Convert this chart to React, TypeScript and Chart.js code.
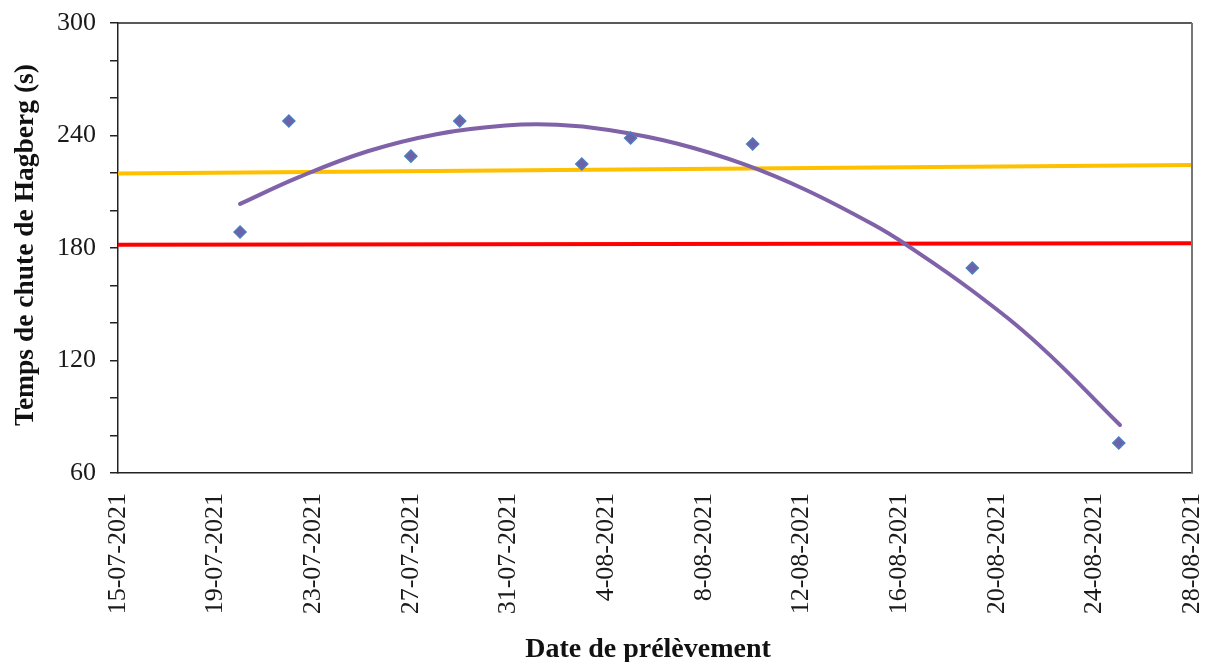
import React, { useEffect, useRef } from "react";
import { Chart, registerables } from "chart.js";

Chart.register(...registerables);

// Sampling dates and Hagberg falling number (s)
const sampleDates = ["20-07-2021", "22-07-2021", "27-07-2021", "29-07-2021", "03-08-2021", "05-08-2021", "10-08-2021", "19-08-2021", "25-08-2021"];
const hagbergValues = [188.5, 247.7, 229, 247.7, 224.8, 238.7, 235.5, 169.3, 76];

// Polynomial trend curve, x in days since 15-07-2021
const trendDays = [5, 7.41, 10.23, 13.05, 15.87, 17.99, 20.11, 22.93, 25.75, 28.21, 30.94, 32.31, 35.04, 37.77, 41.05];
const trendValues = [203.5, 217.8, 231.6, 240.7, 245.3, 245.7, 242.9, 235.6, 224.2, 210.8, 192.5, 181.6, 156.8, 127.8, 85.6];

// Reference lines (start / end of axis)
const refLineDays = [0, 44];
const yellowLineValues = [219.7, 224.3];
const redLineValues = [181.8, 182.5];

// Axis settings and titles
const xStartDate = "15-07-2021";
const xMaxDays = 44;
const xTickStep = 4;
const yMin = 60;
const yMax = 300;
const yMinorStep = 20;
const yMajorStep = 60;
const xTitle = "Date de prélèvement";
const yTitle = "Temps de chute de Hagberg (s)";

const DAY = 86400000;
function parseDate(s: string): number {
  const [d, m, y] = s.split("-").map(Number);
  return Date.UTC(y, m - 1, d);
}
const origin = parseDate(xStartDate);
function toDays(s: string): number {
  return Math.round((parseDate(s) - origin) / DAY);
}
function fmtDay(v: number): string {
  const dt = new Date(origin + v * DAY);
  const d = dt.getUTCDate();
  const m = dt.getUTCMonth() + 1;
  return `${d}-${m < 10 ? "0" + m : m}-${dt.getUTCFullYear()}`;
}

const SERIF = "'Liberation Serif', 'Times New Roman', serif";

const frameAndTitles = {
  id: "frameAndTitles",
  afterDatasetsDraw(chart: any) {
    const { ctx, chartArea } = chart;
    ctx.save();
    ctx.lineWidth = 1.5;
    ctx.strokeStyle = "#222";
    ctx.beginPath();
    ctx.moveTo(chartArea.left, chartArea.top);
    ctx.lineTo(chartArea.right, chartArea.top);
    ctx.stroke();
    ctx.strokeStyle = "#777";
    ctx.lineWidth = 2;
    ctx.beginPath();
    ctx.moveTo(chartArea.right, chartArea.top);
    ctx.lineTo(chartArea.right, chartArea.bottom);
    ctx.stroke();
    ctx.restore();
  },
  afterDraw(chart: any) {
    const { ctx, chartArea } = chart;
    ctx.save();
    ctx.fillStyle = "#111";
    ctx.textAlign = "center";
    ctx.textBaseline = "middle";
    ctx.font = `bold 28px ${SERIF}`;
    ctx.fillText(xTitle, chartArea.left + 530, chartArea.bottom + 177);
    ctx.translate(chartArea.left - 92, (chartArea.top + chartArea.bottom) / 2 - 3);
    ctx.rotate(-Math.PI / 2);
    ctx.font = `bold 27.5px ${SERIF}`;
    ctx.fillText(yTitle, 0, 0);
    ctx.restore();
  },
};

export default function App() {
  const ref = useRef<HTMLCanvasElement | null>(null);
  useEffect(() => {
    if (!ref.current) return;
    const chart = new Chart(ref.current, {
      type: "scatter",
      data: {
        datasets: [
          {
            label: "Temps de chute de Hagberg",
            data: sampleDates.map((d, i) => ({ x: toDays(d), y: hagbergValues[i] })),
            pointStyle: "rectRot",
            pointRadius: 6,
            backgroundColor: "#6D62AA",
            borderColor: "#4A7EC0",
            borderWidth: 1.5,
            showLine: false,
            order: 0,
          },
          {
            label: "Tendance",
            data: trendDays.map((d, i) => ({ x: d, y: trendValues[i] })),
            showLine: true,
            tension: 0.4,
            borderColor: "#7F62A8",
            borderWidth: 4,
            borderCapStyle: "round",
            pointRadius: 0,
            order: 1,
          },
          {
            label: "Jaune",
            data: refLineDays.map((d, i) => ({ x: d, y: yellowLineValues[i] })),
            showLine: true,
            borderColor: "#FFC000",
            borderWidth: 4,
            pointRadius: 0,
            order: 2,
          },
          {
            label: "Rouge",
            data: refLineDays.map((d, i) => ({ x: d, y: redLineValues[i] })),
            showLine: true,
            borderColor: "#FF0000",
            borderWidth: 4,
            pointRadius: 0,
            order: 3,
          },
        ] as any,
      },
      options: {
        animation: false,
        responsive: true,
        maintainAspectRatio: false,
        layout: { padding: { left: 0, top: 23, right: 16, bottom: 0 } },
        plugins: { legend: { display: false }, tooltip: { enabled: false } },
        scales: {
          x: {
            type: "linear",
            min: 0,
            max: xMaxDays,
            afterFit: (s: any) => {
              s.height = 189;
              s.paddingLeft = 0;
              s.paddingRight = 0;
              s.paddingTop = 0;
              s.paddingBottom = 0;
            },
            afterBuildTicks: (s: any) => {
              const t = [];
              for (let v = 0; v <= xMaxDays; v += xTickStep) t.push({ value: v });
              s.ticks = t;
            },
            ticks: {
              autoSkip: false,
              minRotation: 90,
              maxRotation: 90,
              padding: 20,
              color: "#1a1a1a",
              font: { family: SERIF, size: 26 },
              callback: (v: any) => fmtDay(Number(v)),
            },
            grid: { drawOnChartArea: false, drawTicks: false },
            border: { display: true, color: "#222", width: 1.5 },
          },
          y: {
            min: yMin,
            max: yMax,
            afterFit: (s: any) => {
              s.width = 118;
              s.paddingLeft = 0;
              s.paddingRight = 0;
              s.paddingTop = 0;
              s.paddingBottom = 0;
            },
            ticks: {
              stepSize: yMinorStep,
              padding: 14,
              color: "#1a1a1a",
              font: { family: SERIF, size: 26 },
              callback: (v: any) => (Number(v) % yMajorStep === 0 ? String(v) : ""),
            },
            grid: { drawOnChartArea: false, drawTicks: true, tickLength: 8, color: "#222", lineWidth: 1.5 },
            border: { display: true, color: "#222", width: 1.5 },
          },
        },
      },
      plugins: [frameAndTitles],
    });
    return () => chart.destroy();
  }, []);
  return (
    <div style={{ position: "absolute", left: 0, top: 0, width: 1208, height: 662, background: "#fff" }}>
      <canvas ref={ref} />
    </div>
  );
}
